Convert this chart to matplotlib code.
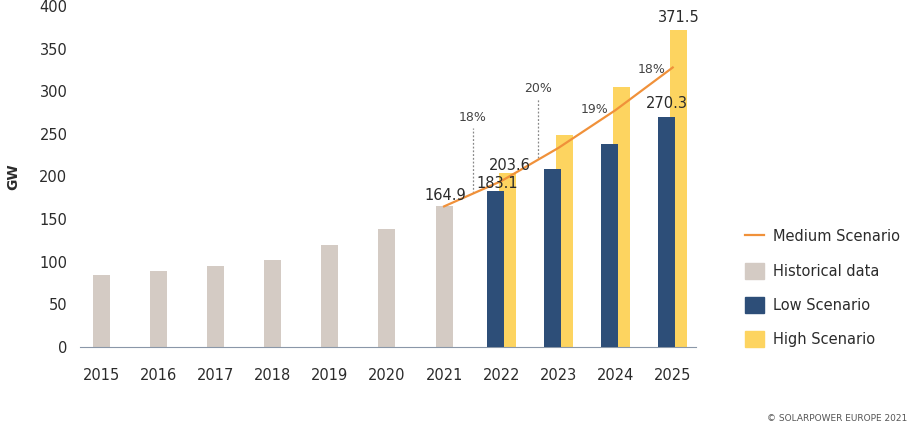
import numpy as np
import matplotlib
matplotlib.use("Agg")
import matplotlib.pyplot as plt
from matplotlib.lines import Line2D
from matplotlib.patches import Patch

# data
years_hist = [2015, 2016, 2017, 2018, 2019, 2020, 2021]
hist_values = [84.5, 89.0, 95.0, 102.5, 120.0, 138.5, 164.9]

years_scen = [2022, 2023, 2024, 2025]
low_values = [183.1, 209.0, 238.0, 270.3]
high_values = [203.6, 249.0, 305.0, 371.5]

years_medium = [2021, 2022, 2023, 2024, 2025]
medium_values = [164.9, 194.6, 233.5, 277.9, 327.9]
growth_labels = ["18%", "20%", "19%", "18%"]

all_years = years_hist + years_scen

HIST_COLOR = "#d4cbc4"
LOW_COLOR = "#2d4e78"
HIGH_COLOR = "#fdd460"
MED_COLOR = "#f0913a"
TEXT_COLOR = "#2b2b2b"

plt.rcParams['font.family'] = ['DejaVu Sans']

fig = plt.figure(figsize=(9.12, 4.32), dpi=100)
ax = fig.add_axes([0.0877, 0.197, 0.675, 0.789])

w = 0.3
ax.bar(years_hist, hist_values, width=w, color=HIST_COLOR, zorder=2)
ax.bar(np.array(years_scen) + 0.105, high_values, width=w, color=HIGH_COLOR, zorder=2)
ax.bar(np.array(years_scen) - 0.105, low_values, width=w, color=LOW_COLOR, zorder=3)
ax.plot(years_medium, medium_values, color=MED_COLOR, lw=1.6, zorder=4)

# value labels
lab_kw = dict(fontsize=10.5, color=TEXT_COLOR, ha="center", va="bottom", zorder=5)
ax.text(2021.03, hist_values[-1] + 4, f"{hist_values[-1]:.1f}", **lab_kw)
ax.text(2021.93, low_values[0] + 0, f"{low_values[0]:.1f}", **lab_kw)
ax.text(2022.15, high_values[0] + 0, f"{high_values[0]:.1f}", **lab_kw)
ax.text(2024.9, low_values[-1] + 6, f"{low_values[-1]:.1f}", **lab_kw)
ax.text(2025.1, high_values[-1] + 6, f"{high_values[-1]:.1f}", **lab_kw)

# growth annotations
pct_kw = dict(fontsize=9, color="#444444", ha="center", va="bottom")
ax.plot([2021.5, 2021.5], [181, 257], ls=(0, (1.5, 1.5)), color="#888888", lw=0.9, zorder=1)
ax.text(2021.5, 261, growth_labels[0], **pct_kw)
ax.plot([2022.65, 2022.65], [222, 292], ls=(0, (1.5, 1.5)), color="#888888", lw=0.9, zorder=1)
ax.text(2022.65, 296, growth_labels[1], **pct_kw)
ax.text(2023.63, 271, growth_labels[2], **pct_kw)
ax.text(2024.63, 318, growth_labels[3], **pct_kw)

ax.set_xlim(2014.63, 2025.4)
ax.set_ylim(0, 400)
ax.set_xticks(all_years)
ax.set_xticklabels([str(y) for y in all_years])
ax.set_yticks(range(0, 401, 50))
for s in ["top", "right", "left"]:
    ax.spines[s].set_visible(False)
ax.spines["bottom"].set_color("#8a97a8")
ax.spines["bottom"].set_linewidth(0.8)
ax.tick_params(axis="both", length=0, labelsize=10.5, colors=TEXT_COLOR)
ax.tick_params(axis="x", pad=15)
ax.tick_params(axis="y", pad=9)
ax.set_ylabel("GW", fontsize=10, fontweight="bold", color=TEXT_COLOR, labelpad=14)

handles = [
    Line2D([0], [0], color=MED_COLOR, lw=1.6),
    Patch(color=HIST_COLOR),
    Patch(color=LOW_COLOR),
    Patch(color=HIGH_COLOR),
]
labels = ["Medium Scenario", "Historical data", "Low Scenario", "High Scenario"]
fig.legend(handles, labels, loc="center left", bbox_to_anchor=(0.803, 0.334),
           frameon=False, fontsize=10.5, labelcolor=TEXT_COLOR, handlelength=1.3,
           handleheight=1.3, labelspacing=1.25, handletextpad=0.6)

fig.text(0.995, 0.02, "© SOLARPOWER EUROPE 2021", fontsize=6.5, color="#555555",
         ha="right", va="bottom")

fig.savefig("out.png", dpi=100)
